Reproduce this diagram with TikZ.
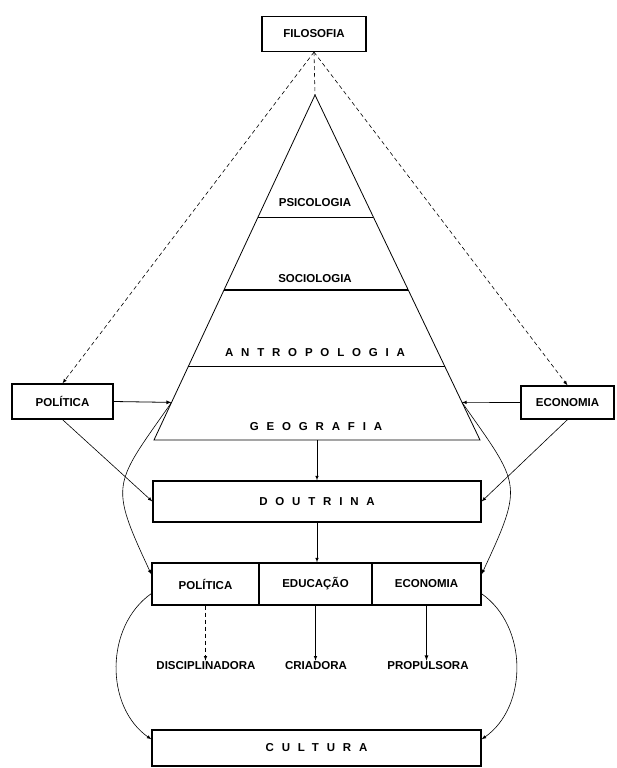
\documentclass[tikz,border=0pt]{standalone}
\usepackage{fontspec}
\setmainfont{Liberation Sans}
\usetikzlibrary{positioning,calc}
\newcommand{\spaced}[1]{{\addfontfeature{LetterSpace=68}#1}}

\begin{document}
\begin{tikzpicture}[>=latex, x=1pt, y=-1pt, semithick]

                \tikzset{% styles for boxes and labels
                    box/.style={draw,very thick,inner sep=0pt,
                                font=\fontsize{11.5}{13}\selectfont\bfseries},
                    lab/.style={inner sep=1pt,font=\fontsize{11.5}{13}\selectfont\bfseries},
                    dashline/.style={dash pattern=on 4pt off 3pt}}

                    \useasboundingbox (0,0) rectangle (616,768);

                    % the pyramid
                    \coordinate (apex) at (315,95);
                    \coordinate (bl) at (154,440);
                    \coordinate (br) at (480,440);
                    \draw [thick] (apex) -- (bl) -- (br) -- cycle;
                    \draw [very thick] ($(apex)!0.354!(bl)$) -- ($(apex)!0.354!(br)$);
                    \draw [very thick] ($(apex)!0.565!(bl)$) -- ($(apex)!0.565!(br)$);
                    \draw [thick] ($(apex)!0.786!(bl)$) -- ($(apex)!0.786!(br)$);
                    \coordinate (pl) at ($(apex)!0.891!(bl)$);
                    \coordinate (pr) at ($(apex)!0.891!(br)$);
                    \coordinate (base) at ($(bl)!0.5!(br)$);

                    \node [lab](psico) at (315,203) {PSICOLOGIA};
                    \node [lab](socio) at (315,279) {SOCIOLOGIA};
                    \node [lab](antro) at (315,353) {\spaced{ANTROPOLOGIA}};
                    \node [lab](geo) at (316,427) {\spaced{GEOGRAFIA}};

                    % the boxes
                    \node [box,minimum width=104pt,minimum height=35pt](filosofia) at (314,34) {FILOSOFIA};
                    \node [box,minimum width=101pt,minimum height=35pt](politica) at (62.5,401.5) {POLÍTICA};
                    \node [box,minimum width=93pt,minimum height=33pt](economia) at (567.5,402.5) {ECONOMIA};
                    \node [box,minimum width=328pt,minimum height=41pt](doutrina) at (317,501.5) {\spaced{DOUTRINA}};
                    \node [box,minimum width=107pt,minimum height=42pt](polrow) at (205.5,584) {POLÍTICA};
                    \node [box,minimum width=113pt,minimum height=42pt](edurow) at (315.5,584) {EDUCAÇÃO};
                    \node [box,minimum width=109pt,minimum height=42pt](ecorow) at (426.5,584) {ECONOMIA};
                    \node [box,minimum width=329pt,minimum height=36pt](cultura) at (316.5,748) {\spaced{CULTURA}};

                    \node [lab](disc) at (206,666) {DISCIPLINADORA};
                    \node [lab](cria) at (316,666) {CRIADORA};
                    \node [lab](prop) at (428,666) {PROPULSORA};

                    % connectors
                    \draw [dashline] (filosofia.south) -- (apex);
                    \draw [->,dashline] (filosofia.south) -- (politica.north);
                    \draw [->,dashline] (filosofia.south) -- (economia.north);

                    \draw [->,thick] (politica.east) -- (pl);
                    \draw [->] (economia.west) -- (pr);
                    \draw [->] (politica.south) -- (doutrina.west);
                    \draw [->] (economia.south) -- (doutrina.east);
                    \draw [->] (base) -- (doutrina.north);
                    \draw [->] (doutrina.south) -- (doutrina.south |- edurow.north);

                    \draw [->,dashline] (polrow.south) -- (polrow.south |- disc.north);
                    \draw [->] (edurow.south) -- (edurow.south |- cria.north);
                    \draw [->,thick] (ecorow.south) -- (ecorow.south |- prop.north);

                    \draw [->] (pl) to[out=235,in=115,looseness=1.5] (polrow.170);
                    \draw [->] (pr) to[out=-55,in=65,looseness=1.5] (ecorow.10);
                    \draw [->] (polrow.190) to[out=215,in=145] (cultura.177);
                    \draw [->] (ecorow.350) to[out=-35,in=35] (cultura.3);

            \end{tikzpicture}
\end{document}
